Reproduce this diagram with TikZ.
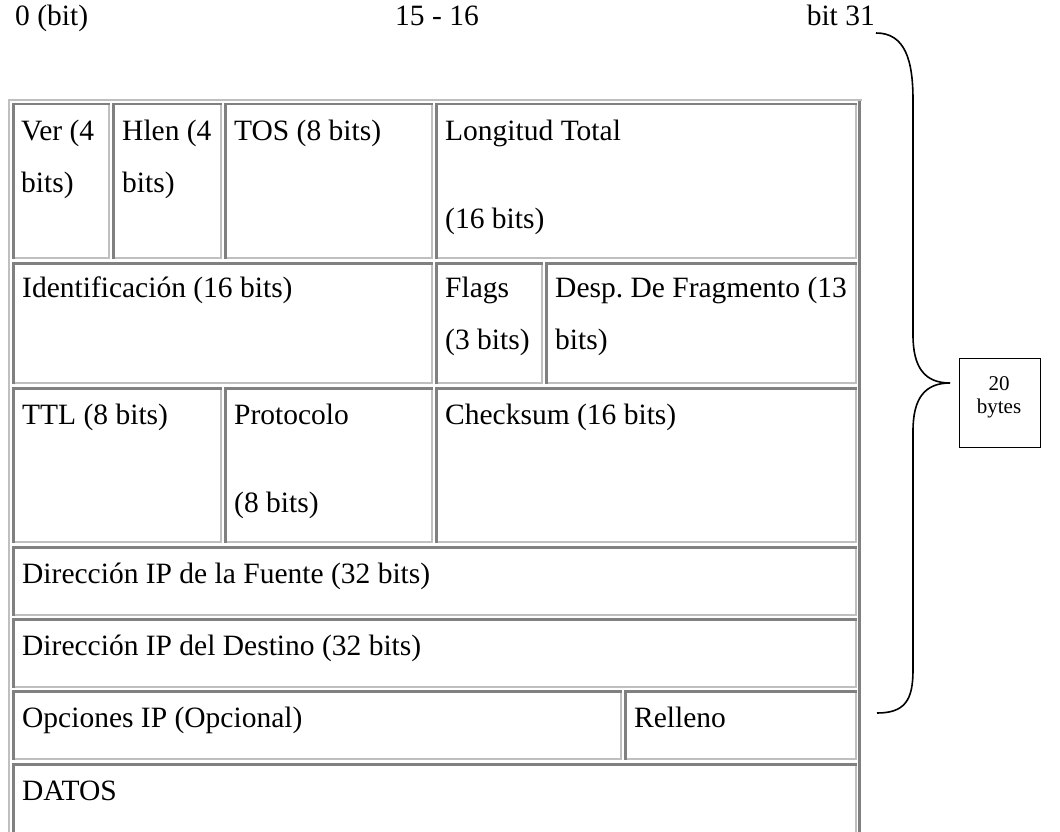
\documentclass[tikz,border=0pt]{standalone}
\usepackage{fontspec}
\setmainfont{Liberation Serif}
\frenchspacing
\newcommand\cellframe[4]{%
  \draw[lt] (#3-1,#2) -- (#3-1,#4-1) -- (#1,#4-1);
  \draw[dk] (#1+1.25,#4) -- (#1+1.25,#2+1.25) -- (#3,#2+1.25);
}
\begin{document}
\begin{tikzpicture}[x=1pt,y=-1pt,
  dk/.style={draw=black!50, line width=2.5pt},
  lt/.style={draw=black!25, line width=2pt},
  txt/.style={anchor=base west, inner sep=0pt, font=\fontsize{29.5}{35}\selectfont},
  smalltxt/.style={anchor=base, inner sep=0pt, font=\fontsize{21}{25}\selectfont},
  brace/.style={draw=black, line width=1.6pt},
  bytebox/.style={draw=black, line width=1.3pt, minimum width=81pt, minimum height=89pt, anchor=north west, inner sep=0pt}
  ]
\useasboundingbox (0,0) rectangle (1060,832);
% table outer border
\draw[lt] (9,832) -- (9,100) -- (862,100);
\draw[dk] (859.5,101) -- (859.5,832);
% row 1
\cellframe{12}{103}{110}{259}
\cellframe{112}{103}{222}{259}
\cellframe{224}{103}{433}{259}
\cellframe{435}{103}{857}{259}
% row 2
\cellframe{12}{262}{433}{384}
\cellframe{435}{262}{543}{384}
\cellframe{545}{262}{857}{384}
% row 3
\cellframe{12}{387}{222}{543}
\cellframe{224}{387}{433}{543}
\cellframe{435}{387}{857}{543}
% rows 4-6
\cellframe{12}{546}{857}{616}
\cellframe{12}{618}{857}{688}
\cellframe{12}{690}{622}{760}
\cellframe{624}{690}{857}{760}
% row 7 (cut by the page edge)
\draw[lt] (856,763) -- (856,832);
\draw[dk] (13.25,832) -- (13.25,764.25) -- (857,764.25);
% header labels
\node[txt] (h0) at (15,26) {0 (bit)};
\node[txt] (h15) at (395,26) {15 - 16};
\node[txt, anchor=base east] (h31) at (875,26) {bit 31};
% cell texts
\node[txt] (ver) at (21,140) {Ver (4};
\node[txt] (ver2) at (21,192) {bits)};
\node[txt] (hlen) at (122,140) {Hlen (4};
\node[txt] (hlen2) at (122,192) {bits)};
\node[txt] (tos) at (234,140) {TOS (8 bits)};
\node[txt] (len) at (445,140) {Longitud Total};
\node[txt] (len2) at (445,228) {(16 bits)};
\node[txt] (ident) at (22,297) {Identificación (16 bits)};
\node[txt] (flags) at (445,297) {Flags};
\node[txt] (flags2) at (445,349) {(3 bits)};
\node[txt] (desp) at (555,297) {Desp. De Fragmento (13};
\node[txt] (desp2) at (555,349) {bits)};
\node[txt] (ttl) at (22,424) {TTL (8 bits)};
\node[txt] (proto) at (234,424) {Protocolo};
\node[txt] (proto2) at (234,512) {(8 bits)};
\node[txt] (chk) at (445,424) {Checksum (16 bits)};
\node[txt] (src) at (22,583) {Dirección IP de la Fuente (32 bits)};
\node[txt] (dst) at (22,655) {Dirección IP del Destino (32 bits)};
\node[txt] (opt) at (22,727) {Opciones IP (Opcional)};
\node[txt] (pad) at (634,727) {Relleno};
\node[txt] (data) at (22,800) {DATOS};
% brace and box
\coordinate (btop) at (876,33);
\coordinate (btip) at (950,383);
\coordinate (bbot) at (877,713);
\node[bytebox] (bx) at (959,358) {};
\node[smalltxt] (b20) at (999,390) {20};
\node[smalltxt] (bbytes) at (999,413) {bytes};
\draw[brace] (btop) .. controls (905,33) and (913,60) .. (913,100) -- (913,335)
  .. controls (913,368) and (925,383) .. (btip);
\draw[brace] (btip) .. controls (925,383) and (913,398) .. (913,431) -- (913,670)
  .. controls (913,700) and (905,713) .. (bbot);
\end{tikzpicture}
\end{document}
